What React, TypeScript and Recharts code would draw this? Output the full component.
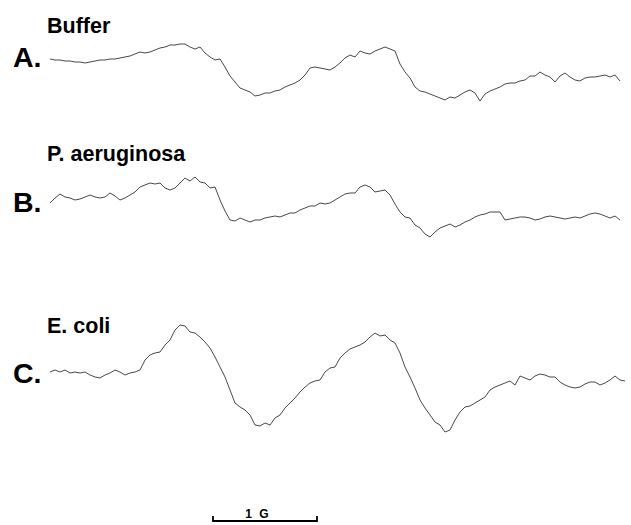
import React from "react";
import { LineChart, Line, XAxis, YAxis } from "recharts";

// EPR first-derivative traces, sampled about every 0.05 G across the sweep
// (amplitude in arbitrary units, positive up, 0 = trace baseline)
const bufferSignal = [
  1, 0, 0, -1, -1, -2, -2, -3, -2, -1,
  0, 0, 1, 1, 2, 3, 4, 6, 8, 7,
  8, 10, 12, 13, 15, 15, 16, 16, 13, 11,
  13, 7, 3, 0, 1, -7, -16, -22, -28, -30,
  -32, -36, -35, -33, -33, -31, -30, -27, -25, -23,
  -20, -15, -8, -7, -8, -9, -10, -7, -3, 2,
  5, 3, 9, 7, 6, 9, 11, 13, 11, 9,
  -4, -12, -18, -27, -31, -32, -34, -36, -38, -40,
  -37, -38, -35, -32, -30, -33, -41, -34, -31, -29,
  -27, -24, -23, -23, -21, -20, -16, -16, -12, -15,
  -17, -22, -16, -13, -17, -20, -21, -18, -17, -17,
  -16, -15, -17, -15, -21, null,
];

const aeruginosaSignal = [
  -3, 2, 6, 3, 2, 0, 1, 3, 5, 3,
  2, 3, 7, 4, 0, 2, 5, 8, 13, 15,
  17, 16, 17, 12, 10, 12, 17, 22, 19, 23,
  18, 17, 12, 13, 0, -11, -20, -21, -18, -20,
  -22, -20, -20, -18, -17, -16, -17, -15, -13, -13,
  -10, -8, -6, -6, -3, -4, -3, 0, 3, 6,
  7, 7, 13, 15, 13, 8, 9, 10, 5, -4,
  -12, -17, -18, -25, -28, -34, -37, -32, -28, -26,
  -24, -27, -25, -22, -20, -17, -15, -14, -12, -12,
  -12, -20, -19, -18, -17, -17, -18, -20, -19, -17,
  -16, -17, -18, -19, -18, -17, -18, -16, -14, -13,
  -14, -16, -18, -16, -20, null,
];

const coliSignal = [
  0, 2, 0, 2, -1, 0, -1, 0, -3, -5,
  -6, -3, -1, 2, 0, -3, -1, 0, 2, 12,
  17, 19, 20, 27, 32, 42, 47, 46, 40, 39,
  35, 30, 24, 15, 5, -5, -18, -31, -35, -38,
  -43, -53, -54, -51, -53, -46, -43, -36, -31, -26,
  -20, -15, -11, -9, -8, 0, 4, 5, 14, 19,
  23, 25, 27, 30, 35, 39, 36, 37, 32, 29,
  19, 5, -5, -16, -28, -36, -43, -50, -53, -60,
  -58, -48, -40, -35, -34, -31, -28, -25, -18, -15,
  -13, -11, -9, -13, -4, -6, -8, -4, -2, -3,
  -5, -5, -10, -13, -15, -16, -15, -12, -10, -10,
  -13, -11, -8, -4, -8, -9,
];

const traceNames = ["Buffer", "P. aeruginosa", "E. coli"];
const panelLetters = ["A.", "B.", "C."];
const scaleLabel = "1 G";

const W = 631;
const H = 525;
// vertical stacking of the three traces (in y-axis units)
const offsets = [465, 325, 153];
const FONT = "'Liberation Sans', Arial, Helvetica, sans-serif";

const shift = (v: number | null, off: number) => (v == null ? null : v + off);

const data = bufferSignal.map((v, i) => ({
  i,
  a: shift(v, offsets[0]),
  b: shift(aeruginosaSignal[i], offsets[1]),
  c: shift(coliSignal[i], offsets[2]),
}));

const nameY = [33, 161, 333];
const letterY = [67, 212, 383];

export default function App() {
  return (
    <div
      style={{
        position: "absolute",
        left: 0,
        top: 0,
        width: W,
        height: H,
        background: "#fff",
      }}
    >
      <LineChart
        width={W}
        height={H}
        data={data}
        margin={{ top: 0, right: 6, bottom: 0, left: 50 }}
      >
        <XAxis dataKey="i" type="category" hide />
        <YAxis type="number" domain={[0, H]} hide />
        {["a", "b", "c"].map((k) => (
          <Line
            key={k}
            dataKey={k}
            type="linear"
            stroke="#333"
            strokeWidth={0.9}
            dot={false}
            isAnimationActive={false}
          />
        ))}
      </LineChart>
      <svg
        width={W}
        height={H}
        style={{ position: "absolute", left: 0, top: 0, pointerEvents: "none" }}
      >
        {traceNames.map((t, i) => (
          <text
            key={t}
            x={47}
            y={nameY[i]}
            fontFamily={FONT}
            fontWeight="bold"
            fontSize={21.5}
            fill="#000"
          >
            {t}
          </text>
        ))}
        {panelLetters.map((t, i) => (
          <text
            key={t}
            x={13}
            y={letterY[i]}
            fontFamily={FONT}
            fontWeight="bold"
            fontSize={28.5}
            fill="#000"
          >
            {t}
          </text>
        ))}
        <text
          x={258}
          y={518}
          textAnchor="middle"
          fontFamily={FONT}
          fontWeight="bold"
          fontSize={12}
          letterSpacing={2}
          fill="#000"
        >
          {scaleLabel}
        </text>
        <path
          d="M213 516 V521 H317 V516"
          fill="none"
          stroke="#000"
          strokeWidth={1.8}
        />
      </svg>
    </div>
  );
}
